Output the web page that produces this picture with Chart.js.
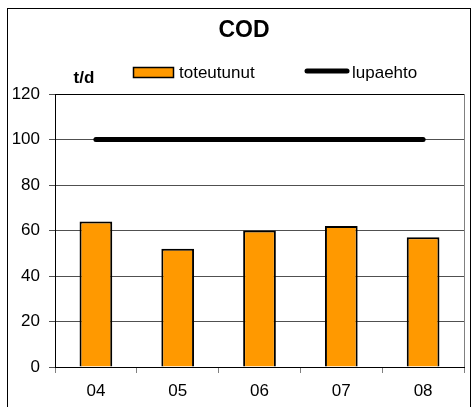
<!DOCTYPE html>
<html>
<head>
<meta charset="utf-8">
<script src="https://cdn.jsdelivr.net/npm/chart.js@4/dist/chart.umd.min.js"></script>
<style>
  html, body { margin: 0; padding: 0; background: #fff; }
  #wrap { width: 474px; height: 407px; }
</style>
</head>
<body>
<div id="wrap"><canvas id="codChart" width="474" height="407"></canvas></div>
<script>
// chart data
const years = ['04', '05', '06', '07', '08'];
const toteutunut = [64, 52, 60, 62, 57];
const lupaehto = [100, 100, 100, 100, 100];
const yTicks = [0, 20, 40, 60, 80, 100, 120];

const FONT = '"Liberation Sans", Arial, sans-serif';

// frame, title, unit and legend drawn on the canvas
const decorations = {
    id: 'decorations',
    beforeDraw(chart) {
        const ctx = chart.ctx;
        ctx.save();
        ctx.fillStyle = '#fff';
        ctx.fillRect(0, 0, chart.width, chart.height);
        ctx.restore();
    },
    afterDraw(chart) {
        const ctx = chart.ctx;
        const area = chart.chartArea;
        ctx.save();

        // outer frame
        ctx.strokeStyle = '#000';
        ctx.lineWidth = 1;
        ctx.strokeRect(7.5, 8.5, 463, 410);

        // top and right edges of plot area
        ctx.strokeStyle = '#000';
        ctx.beginPath();
        ctx.moveTo(area.left, Math.round(area.top) + 0.5);
        ctx.lineTo(area.right, Math.round(area.top) + 0.5);
        ctx.stroke();
        ctx.strokeStyle = '#808080';
        ctx.beginPath();
        ctx.moveTo(Math.round(area.right) + 0.5, area.top);
        ctx.lineTo(Math.round(area.right) + 0.5, area.bottom);
        ctx.stroke();

        // title
        ctx.fillStyle = '#000';
        ctx.textAlign = 'center';
        ctx.textBaseline = 'alphabetic';
        ctx.font = 'bold 23px ' + FONT;
        ctx.fillText('COD', 244, 37);

        // unit
        ctx.font = 'bold 17px ' + FONT;
        ctx.fillText('t/d', 84, 83);

        // legend
        const ds = chart.data.datasets;
        ctx.font = '17px ' + FONT;
        ctx.textAlign = 'left';
        ctx.fillStyle = ds[0].backgroundColor;
        ctx.fillRect(133, 67, 41, 11);
        ctx.strokeStyle = '#000';
        ctx.lineWidth = 1.5;
        ctx.strokeRect(133.5, 67.5, 40, 10);
        ctx.fillStyle = '#000';
        ctx.fillText(ds[0].label, 179, 78);

        ctx.lineWidth = 5;
        ctx.lineCap = 'round';
        ctx.beginPath();
        ctx.moveTo(307, 71);
        ctx.lineTo(347, 71);
        ctx.stroke();
        ctx.fillText(ds[1].label, 352, 78);

        ctx.restore();
    }
};

new Chart(document.getElementById('codChart'), {
    data: {
        labels: years,
        datasets: [
            {
                type: 'bar',
                label: 'toteutunut',
                data: toteutunut,
                backgroundColor: '#FF9900',
                borderColor: '#000',
                borderWidth: 2,
                barPercentage: 0.4,
                categoryPercentage: 1.0,
                order: 2
            },
            {
                type: 'line',
                label: 'lupaehto',
                data: lupaehto,
                borderColor: '#000',
                borderWidth: 5,
                borderCapStyle: 'round',
                pointRadius: 0,
                fill: false,
                order: 1
            }
        ]
    },
    options: {
        responsive: false,
        animation: false,
        devicePixelRatio: 1,
        layout: { padding: { left: 0, right: 10, top: 94, bottom: 0 } },
        plugins: {
            legend: { display: false },
            title: { display: false },
            tooltip: { enabled: false }
        },
        scales: {
            x: {
                offset: true,
                afterFit(scale) { scale.height = 40; },
                grid: {
                    offset: true,
                    drawOnChartArea: false,
                    drawTicks: true,
                    tickLength: 6,
                    color: '#808080'
                },
                border: { color: '#000', width: 1 },
                ticks: {
                    color: '#000',
                    font: { family: FONT, size: 17 },
                    padding: 8
                }
            },
            y: {
                min: 0,
                max: 120,
                afterFit(scale) { scale.width = 55; },
                afterBuildTicks(scale) {
                    scale.ticks = yTicks.map(v => ({ value: v }));
                },
                grid: {
                    color: '#505050',
                    lineWidth: 1,
                    tickLength: 6
                },
                border: { color: '#000', width: 1 },
                ticks: {
                    color: '#000',
                    font: { family: FONT, size: 17 },
                    padding: 9
                }
            }
        }
    },
    plugins: [decorations]
});
</script>
</body>
</html>
